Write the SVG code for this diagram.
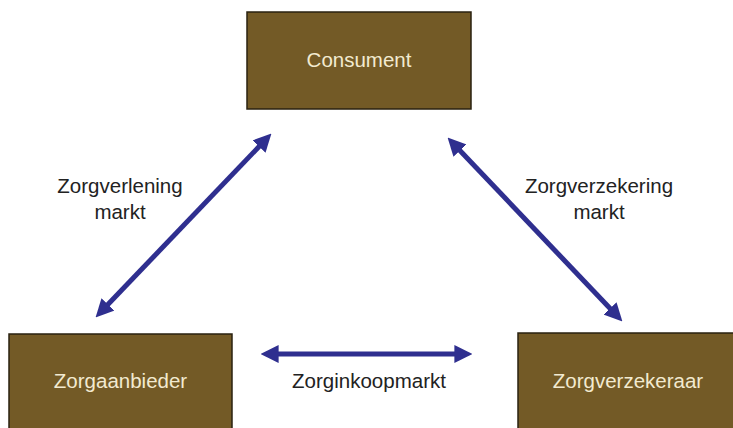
<svg xmlns="http://www.w3.org/2000/svg" width="733" height="428" viewBox="0 0 733 428">
<style>
.box{fill:#735a26;stroke:#2a2210;stroke-width:1.5}
.bt{font-family:"Liberation Sans",Arial,sans-serif;font-size:20.5px;fill:#f2ead0;text-anchor:middle}
.lt{font-family:"Liberation Sans",Arial,sans-serif;font-size:20.5px;fill:#222;text-anchor:middle}
.con{stroke:#2f2f8f;stroke-width:5;fill:none;marker-start:url(#ah);marker-end:url(#ah)}
</style>
<defs>
<marker id="ah" viewBox="0 0 10 10" refX="2" refY="5" markerWidth="3.6" markerHeight="3.6" orient="auto-start-reverse">
<path d="M0,0 L10,5 L0,10 z" fill="#2f2f8f"/>
</marker>
</defs>
<rect width="733" height="428" fill="#fff"/>
<g id="consument"><rect class="box" x="247" y="12" width="224" height="97"/><text class="bt" x="359" y="67">Consument</text></g>
<g id="zorgaanbieder"><rect class="box" x="9" y="334" width="223" height="100"/><text class="bt" x="120.5" y="388">Zorgaanbieder</text></g>
<g id="zorgverzekeraar"><rect class="box" x="518" y="333" width="220" height="100"/><text class="bt" x="628" y="388">Zorgverzekeraar</text></g>
<g id="connectors">
<line class="con" x1="105.5" y1="307" x2="261.5" y2="144"/>
<line class="con" x1="457.5" y1="148" x2="612.5" y2="311"/>
<line class="con" x1="275" y1="354" x2="458" y2="354"/>
</g>
<g id="labels">
<text class="lt" x="120" y="193">Zorgverlening</text>
<text class="lt" x="120" y="219">markt</text>
<text class="lt" x="599" y="193">Zorgverzekering</text>
<text class="lt" x="599" y="219">markt</text>
<text class="lt" x="369" y="388">Zorginkoopmarkt</text>
</g>
</svg>
